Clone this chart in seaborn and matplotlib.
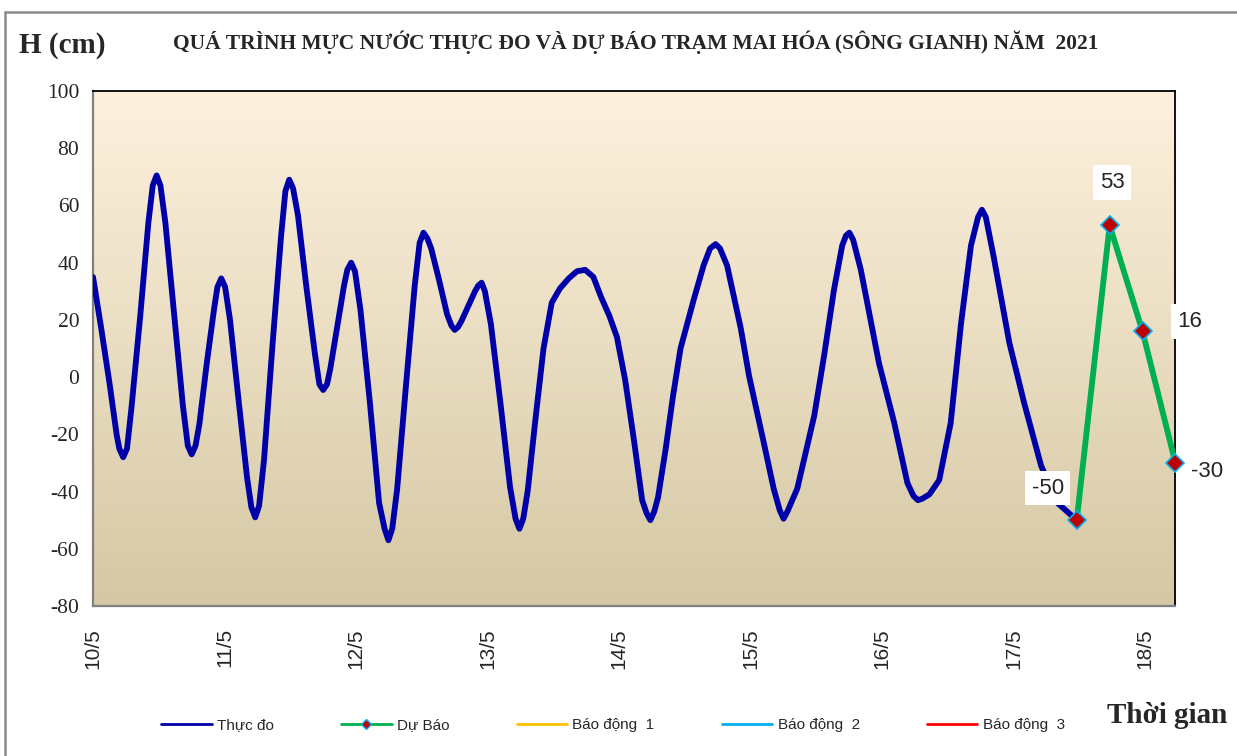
import numpy as np
import matplotlib
matplotlib.use("Agg")
import matplotlib.pyplot as plt
from matplotlib.colors import LinearSegmentedColormap
from matplotlib.lines import Line2D
import seaborn as sns

# observed water level (hours counted from 10/5 00h)
obs_hours = [0, 1.5, 3, 4.3, 4.8, 5.5, 6.2, 7.0, 8.6, 10.1,
             10.9, 11.6, 12.3, 13.2, 14.8, 16.4, 17.3, 18.0, 18.7, 19.4,
             20.7, 22.1, 22.7, 23.4, 24.1, 25.0, 26.5, 28.1, 28.9, 29.6,
             30.3, 31.2, 32.7, 34.3, 35.1, 35.8, 36.5, 37.4, 38.9, 40.5,
             41.3, 42.0, 42.7, 43.3, 44.6, 45.8, 46.4, 47.1, 47.8, 48.8,
             50.5, 52.2, 53.2, 53.9, 54.6, 55.5, 57.1, 58.7, 59.6, 60.3,
             61.0, 61.7, 63.2, 64.6, 65.4, 66.0, 66.6, 67.2, 68.5, 69.7,
             70.3, 70.9, 71.5, 72.6, 74.4, 76.1, 77.1, 77.8, 78.5, 79.3,
             80.8, 82.2, 83.7, 85.2, 86.8, 88.3, 89.8, 91.3, 92.7, 94.2,
             95.6, 97.1, 98.7, 100.2, 101.0, 101.7, 102.4, 103.1, 104.5, 105.8,
             107.2, 109.6, 111.4, 112.6, 113.6, 114.4, 115.7, 118.2, 119.7, 122.4,
             124.2, 125.3, 126.0, 126.7, 128.5, 131.6, 133.4, 135.2, 136.7, 137.4,
             138.0, 138.7, 140.1, 143.4, 146.2, 148.6, 149.7, 150.5, 151.3, 152.6,
             154.4, 156.5, 158.4, 160.2, 161.5, 162.2, 162.9, 164.3, 167.2, 169.9,
             173.0, 176.0, 179.5]
obs_levels = [35, 17, -2, -20, -25, -28, -25, -11, 21, 54,
              67, 70.5, 67, 54, 22, -10, -24, -27, -24, -16.5,
              4, 24, 31.5, 34.5, 31.5, 20, -7, -35, -45.5, -49,
              -45, -29, 10, 49, 65, 69, 66, 56.5, 32, 8,
              -2.5, -4.5, -2.5, 3, 18, 32, 37.5, 40, 37, 23.5,
              -8.5, -44, -53, -57, -53, -39, -3, 32, 47, 50.5,
              48.5, 45, 33.5, 22, 18, 16.5, 17.5, 19.5, 25, 30,
              32, 33, 30, 18.5, -10, -38.5, -49.5, -53, -49.5, -40,
              -13.5, 10, 26, 31, 34.5, 37, 37.5, 35, 28, 21.5,
              14, -1, -22, -43, -47.5, -50, -47, -42, -25, -7,
              10, 27, 39, 45, 46.5, 45, 39, 17, 0.5, -23,
              -39, -46.5, -49.5, -47, -39, -13.5, 7.5, 30.5, 46, 49.5,
              50.5, 48, 37.5, 5, -16, -37, -41.5, -43, -42.5, -41,
              -36, -16, 19, 46, 56, 58.5, 56, 42.5, 12, -9,
              -31, -44, -50]

# forecast
fc_hours = [179.5, 185.5, 191.5, 197.5]
fc_levels = [-50, 53, 16, -30]

day_labels = ["10/5", "11/5", "12/5", "13/5", "14/5", "15/5", "16/5", "17/5", "18/5"]
y_ticks = [-80, -60, -40, -20, 0, 20, 40, 60, 80, 100]

legend_names = ["Thực đo", "Dự Báo", "Báo động  1", "Báo động  2", "Báo động  3"]

sns.set_style("white")
serif = ["Liberation Serif", "DejaVu Serif"]
sans = ["Liberation Sans", "DejaVu Sans"]
plt.rcParams["font.family"] = sans

fig = plt.figure(figsize=(12.37, 7.56), dpi=100)
ax = fig.add_axes([0.0752, 0.1984, 0.875, 0.6812])

# gradient background
cmap = LinearSegmentedColormap.from_list("bg", ["#d5c8a4", "#fdf1de"])
grad = np.linspace(0, 1, 256).reshape(-1, 1)
ax.imshow(grad, extent=[0, 1, 0, 1], transform=ax.transAxes, cmap=cmap,
          aspect="auto", origin="lower", zorder=0)

sns.lineplot(x=obs_hours, y=obs_levels, ax=ax, color="#0000a8", linewidth=4.2,
             sort=False, solid_joinstyle="round", solid_capstyle="round", zorder=3)
sns.lineplot(x=fc_hours, y=fc_levels, ax=ax, color="#00b050", linewidth=4.2,
             sort=False, marker="D", markersize=9, markerfacecolor="#c00000",
             markeredgecolor="#00b0f0", markeredgewidth=1.2, clip_on=False,
             solid_joinstyle="round", zorder=4)

# data labels
offsets = [(-21, 23), (2, 31), (34, 7), (23, -6)]
for h, v, off in zip(fc_hours, fc_levels, offsets):
    ax.annotate(f"{v}", (h, v), xytext=off, textcoords="offset points",
                ha="center", va="center", fontsize=16, family=sans, zorder=5,
                bbox=dict(boxstyle="square,pad=0.3", fc="white", ec="none"),
                annotation_clip=False)

ax.set_xlim(0, 197.5)
ax.set_ylim(-80, 100)

# axes styling
for side in ["left", "bottom"]:
    ax.spines[side].set_color("#808080")
    ax.spines[side].set_linewidth(1.6)
for side in ["top", "right"]:
    ax.spines[side].set_color("black")
    ax.spines[side].set_linewidth(1.3)

ax.set_yticks(y_ticks)
ax.set_yticklabels([str(t) for t in y_ticks], family=serif, fontsize=15.5)
ax.tick_params(axis="y", direction="out", length=7, width=1.3, color="#808080", pad=3)

tick_pos = np.arange(0, 198, 6)
tick_lab = [day_labels[int(p // 24)] if p % 24 == 0 else "" for p in tick_pos]
ax.set_xticks(tick_pos)
ax.set_xticklabels(tick_lab, rotation=90, fontsize=15, family=sans)
ax.tick_params(axis="x", direction="in", length=6, width=1.3, color="#808080", pad=16)
ax.set_xlabel("")
ax.set_ylabel("")

# texts
fig.text(0.514, 0.944, "QUÁ TRÌNH MỰC NƯỚC THỰC ĐO VÀ DỰ BÁO TRẠM MAI HÓA (SÔNG GIANH) NĂM  2021",
         ha="center", va="center", fontsize=15.5, fontweight="bold", family=serif)
fig.text(0.015, 0.94, "H (cm)", ha="left", va="center", fontsize=21,
         fontweight="bold", family=serif)
fig.text(0.992, 0.054, "Thời gian", ha="right", va="center", fontsize=21,
         fontweight="bold", family=serif)

# legend
handles = [
    Line2D([], [], color="#0000a8", lw=2),
    Line2D([], [], color="#00b050", lw=2, marker="D", markersize=5,
           markerfacecolor="#c00000", markeredgecolor="#00b0f0"),
    Line2D([], [], color="#ffc000", lw=2),
    Line2D([], [], color="#00b0f0", lw=2),
    Line2D([], [], color="#ff0000", lw=2),
]
fig.legend(handles, legend_names, loc="center", bbox_to_anchor=(0.4956, 0.041),
           ncol=5, frameon=False, handlelength=3.3, handletextpad=0.35,
           columnspacing=4.4, prop={"family": sans, "size": 11})

# outer chart border (top and left)
fig.add_artist(Line2D([0.004, 1.0], [0.984, 0.984], color="#8c8c8c", lw=1.8,
                      transform=fig.transFigure))
fig.add_artist(Line2D([0.004, 0.004], [0.0, 0.984], color="#8c8c8c", lw=1.8,
                      transform=fig.transFigure))

fig.savefig("out.png", dpi=100)
